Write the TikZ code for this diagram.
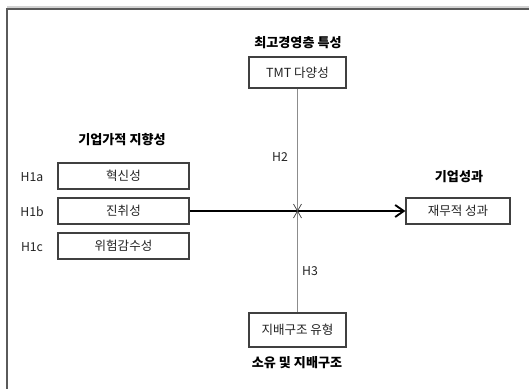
\documentclass[tikz,border=0pt]{standalone}
\usepackage{fontspec}
\setmainfont{Noto Sans CJK KR}
\usetikzlibrary{arrows.meta}
\definecolor{frame}{HTML}{5A5A5A}
\definecolor{boxline}{HTML}{404040}
\definecolor{txt}{HTML}{222222}
\definecolor{vline}{HTML}{8C8C8C}
\tikzset{
  box/.style={draw=boxline, line width=0.8pt, inner sep=0pt, font=\fontsize{9.4}{10}\selectfont, text=txt},
  title/.style={font=\fontsize{9.8}{11}\selectfont\bfseries, text=black, inner sep=0pt},
  lab/.style={font=\fontsize{9.2}{10}\selectfont, text=txt, inner sep=0pt},
  mainarrow/.style={line width=1.6pt, -{Straight Barb[length=6.5pt,width=9pt,line width=1.4pt]}},
  modline/.style={draw=vline, line width=0.9pt},
  crossmark/.style={draw=black!70, line width=0.6pt}
}
\begin{document}
\begin{tikzpicture}[x=0.75pt,y=-0.75pt]
\useasboundingbox (0,0) rectangle (529,389);
% frame
\draw[gray!35, line width=0.8pt] (7,7) -- (529,7);
\draw[frame, line width=1.2pt] (529,9) -- (7,9) -- (7,389);
% boxes
\node[box, minimum width=72.75pt, minimum height=23.25pt] (tmt) at (297.5,72.5) {TMT 다양성};
\node[box, minimum width=72.75pt, minimum height=25.5pt] (gov) at (297.5,330) {지배구조 유형};
\node[box, minimum width=98.25pt, minimum height=19.5pt] (inn) at (123.5,176) {혁신성};
\node[box, minimum width=98.25pt, minimum height=19.5pt] (pro) at (123.5,211) {진취성};
\node[box, minimum width=98.25pt, minimum height=19.5pt] (risk) at (123.5,246) {위험감수성};
\node[box, minimum width=78pt, minimum height=19.5pt] (perf) at (458,211) {재무적 성과};
% titles
\node[title] (t1) at (298,43) {최고경영층 특성};
\node[title] (t2) at (122,140) {기업가적 지향성};
\node[title] (t3) at (459,177) {기업성과};
\node[title] (t4) at (297,363) {소유 및 지배구조};
% labels
\node[lab] (h1a) at (32,177) {H1a};
\node[lab] (h1b) at (32,212) {H1b};
\node[lab] (h1c) at (32,247) {H1c};
\node[lab] (h2) at (280,157) {H2};
\node[lab] (h3) at (310,271) {H3};
% connectors
\draw[modline] (tmt.south) -- (gov.north);
\draw[mainarrow] (pro.east) -- (perf.west);
\coordinate (cx) at (tmt.south |- pro.east);
\draw[crossmark] ([shift={(-4,-7)}]cx) -- ([shift={(4,7)}]cx);
\draw[crossmark] ([shift={(4,-7)}]cx) -- ([shift={(-4,7)}]cx);
\end{tikzpicture}
\end{document}
